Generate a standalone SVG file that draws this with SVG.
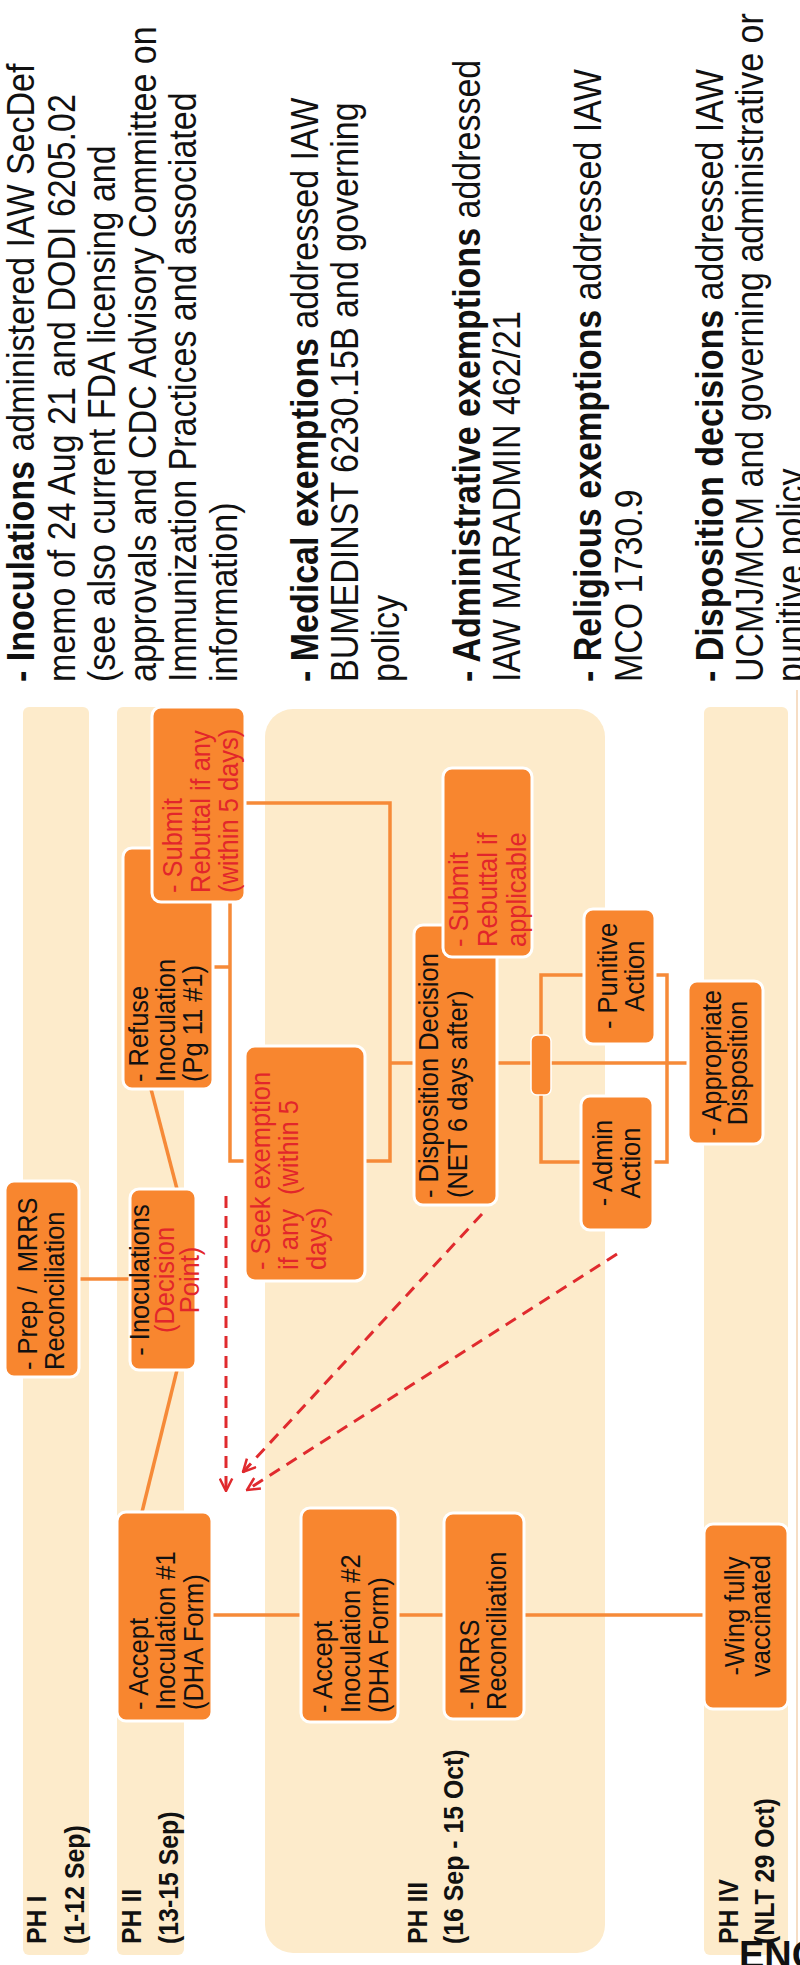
<svg xmlns="http://www.w3.org/2000/svg" width="800" height="1965" viewBox="0 0 800 1965">
<defs>
<style>
text{font-family:"Liberation Sans",Arial,sans-serif;}
.para{font-size:38px;fill:#111;}
.b{font-weight:bold;}
.nt{font-size:28px;fill:#111;}
.red{fill:#E2262B;}
.box{fill:#F8862F;stroke:#fff;stroke-width:3;}
.band{fill:#FDEBCB;}
.conn{stroke:#F68A38;stroke-width:3.5;fill:none;}
.dash{stroke:#E02A2E;stroke-width:3;fill:none;stroke-dasharray:12 8;}
.ph{font-size:27px;font-weight:bold;fill:#111;}
.enc{font-size:38px;font-weight:bold;fill:#111;}
</style>
<marker id="arr" viewBox="0 0 12 12" refX="11" refY="6" markerWidth="5" markerHeight="5" orient="auto" markerUnits="strokeWidth">
<path d="M1,1 L11,6 L1,11" fill="none" stroke="#E02A2E" stroke-width="2"/>
</marker>
</defs>
<rect width="800" height="1965" fill="#fff"/>

<g id="notes">
<text class="para" transform="translate(34,682) rotate(-90) scale(0.895,1)"><tspan class="b">- Inoculations</tspan> administered IAW SecDef</text>
<text class="para" transform="translate(74.5,682) rotate(-90) scale(0.895,1)">memo of 24 Aug 21 and DODI 6205.02</text>
<text class="para" transform="translate(115,682) rotate(-90) scale(0.895,1)">(see also current FDA licensing and</text>
<text class="para" transform="translate(155.5,682) rotate(-90) scale(0.895,1)">approvals and CDC Advisory Committee on</text>
<text class="para" transform="translate(196,682) rotate(-90) scale(0.895,1)">Immunization Practices and associated</text>
<text class="para" transform="translate(236.5,682) rotate(-90) scale(0.895,1)">information)</text>
<text class="para" transform="translate(317.5,682) rotate(-90) scale(0.895,1)"><tspan class="b">- Medical exemptions</tspan> addressed IAW</text>
<text class="para" transform="translate(358,682) rotate(-90) scale(0.895,1)">BUMEDINST 6230.15B and governing</text>
<text class="para" transform="translate(398.5,682) rotate(-90) scale(0.895,1)">policy</text>
<text class="para" transform="translate(479.5,682) rotate(-90) scale(0.895,1)"><tspan class="b">- Administrative exemptions</tspan> addressed</text>
<text class="para" transform="translate(520,682) rotate(-90) scale(0.895,1)">IAW MARADMIN 462/21</text>
<text class="para" transform="translate(601,682) rotate(-90) scale(0.895,1)"><tspan class="b">- Religious exemptions</tspan> addressed IAW</text>
<text class="para" transform="translate(641.5,682) rotate(-90) scale(0.895,1)">MCO 1730.9</text>
<text class="para" transform="translate(722.5,682) rotate(-90) scale(0.895,1)"><tspan class="b">- Disposition decisions</tspan> addressed IAW</text>
<text class="para" transform="translate(763,682) rotate(-90) scale(0.895,1)">UCMJ/MCM and governing administrative or</text>
<text class="para" transform="translate(803.5,682) rotate(-90) scale(0.895,1)">punitive policy</text>
</g>

<g id="lanes">
<rect class="band" x="23" y="707" width="66" height="1248" rx="6"/>
<rect class="band" x="117" y="707" width="67" height="1248" rx="6"/>
<rect class="band" x="265" y="709" width="340" height="1244" rx="28"/>
<rect class="band" x="704" y="707" width="84" height="1248" rx="6"/>
<line x1="797" y1="690" x2="797" y2="1965" stroke="#F3D2B0" stroke-width="1.5"/>
<text class="ph" transform="translate(46,1944) rotate(-90) scale(0.92,1)">PH I</text>
<text class="ph" transform="translate(84,1944) rotate(-90) scale(0.92,1)">(1-12 Sep)</text>
<text class="ph" transform="translate(141,1944) rotate(-90) scale(0.92,1)">PH II</text>
<text class="ph" transform="translate(178,1944) rotate(-90) scale(0.92,1)">(13-15 Sep)</text>
<text class="ph" transform="translate(427,1944) rotate(-90) scale(0.92,1)">PH III</text>
<text class="ph" transform="translate(463,1944) rotate(-90) scale(0.92,1)">(16 Sep - 15 Oct)</text>
<text class="ph" transform="translate(738,1944) rotate(-90) scale(0.92,1)">PH IV</text>
<text class="ph" transform="translate(774,1944) rotate(-90) scale(0.92,1)">(NLT 29 Oct)</text>
<text class="enc" x="739" y="1968">ENC</text>
</g>

<g id="connectors">
<line class="conn" x1="79" y1="1279" x2="130" y2="1279"/>
<line class="conn" x1="151" y1="1089" x2="177" y2="1189"/>
<line class="conn" x1="177" y1="1370" x2="142" y2="1512"/>
<polyline class="conn" points="213,967 230,967"/>
<polyline class="conn" points="230,902 230,1161 245,1161"/>
<polyline class="conn" points="245,803 390,803 390,1161 365,1161"/>
<line class="conn" x1="390" y1="1063" x2="414" y2="1063"/>
<line class="conn" x1="497" y1="1063" x2="688" y2="1063"/>
<polyline class="conn" points="584,975 541,975 541,1162 581,1162"/>
<polyline class="conn" points="655,975 667,975 667,1162 653,1162"/>
<rect x="531" y="1035" width="20" height="60" rx="6" fill="#F8862F" stroke="#fff" stroke-width="1.5"/>
<line class="conn" x1="212" y1="1615" x2="301" y2="1615"/>
<line class="conn" x1="398" y1="1615" x2="444" y2="1615"/>
<line class="conn" x1="524" y1="1615" x2="704" y2="1615"/>
<line class="dash" x1="226" y1="1196" x2="226" y2="1491" marker-end="url(#arr)"/>
<line class="dash" x1="482" y1="1214" x2="243" y2="1472" marker-end="url(#arr)"/>
<line class="dash" x1="617" y1="1254" x2="247" y2="1490" marker-end="url(#arr)"/>
</g>

<g id="n_prep">
<rect class="box" x="5" y="1181" width="74" height="196" rx="9"/>
<text class="nt" transform="translate(37,1370) rotate(-90) scale(0.91,1)" style="white-space:pre"><tspan x="0" y="0">- Prep /  MRRS</tspan><tspan x="0" dy="27">Reconciliation</tspan></text>
</g>
<g id="n_inoc">
<rect class="box" x="130" y="1189" width="66" height="181" rx="9"/>
<text class="nt" text-anchor="middle" transform="translate(149,1280) rotate(-90) scale(0.91,1)"><tspan x="0" y="0">- Inoculations</tspan><tspan class="red" x="0" dy="25">(Decision</tspan><tspan class="red" x="0" dy="25">Point)</tspan></text>
</g>
<g id="n_refuse">
<rect class="box" x="123" y="848" width="90" height="241" rx="9"/>
<text class="nt" transform="translate(148,1082) rotate(-90) scale(0.91,1)"><tspan x="0" y="0">- Refuse</tspan><tspan x="0" dy="27">Inoculation</tspan><tspan x="0" dy="27">(Pg 11 #1)</tspan></text>
</g>
<g id="n_submit1">
<rect class="box" x="152" y="707" width="93" height="195" rx="9"/>
<text class="nt red" transform="translate(182,893) rotate(-90) scale(0.91,1)"><tspan x="0" y="0">- Submit</tspan><tspan x="0" dy="28">Rebuttal if any</tspan><tspan x="0" dy="28">(within 5 days)</tspan></text>
</g>
<g id="n_seek">
<rect class="box" x="245" y="1046" width="120" height="235" rx="10"/>
<text class="nt red" transform="translate(270,1270) rotate(-90) scale(0.91,1)" style="white-space:pre"><tspan x="0" y="0">- Seek exemption</tspan><tspan x="0" dy="28">if any  (within 5</tspan><tspan x="0" dy="28">days)</tspan></text>
</g>
<g id="n_disp">
<rect class="box" x="414" y="925" width="83" height="280" rx="9"/>
<text class="nt" transform="translate(438,1198) rotate(-90) scale(0.91,1)"><tspan x="0" y="0">- Disposition Decision</tspan><tspan x="0" dy="29">(NET 6 days after)</tspan></text>
</g>
<g id="n_submit2">
<rect class="box" x="443" y="768" width="89" height="189" rx="9"/>
<text class="nt red" transform="translate(468,947) rotate(-90) scale(0.91,1)"><tspan x="0" y="0">- Submit</tspan><tspan x="0" dy="29">Rebuttal if</tspan><tspan x="0" dy="29">applicable</tspan></text>
</g>
<g id="n_punitive">
<rect class="box" x="584" y="909" width="71" height="135" rx="9"/>
<text class="nt" text-anchor="middle" transform="translate(617,976) rotate(-90) scale(0.91,1)"><tspan x="0" y="0">- Punitive</tspan><tspan x="0" dy="27">Action</tspan></text>
</g>
<g id="n_admin">
<rect class="box" x="581" y="1096" width="72" height="134" rx="9"/>
<text class="nt" text-anchor="middle" transform="translate(612,1163) rotate(-90) scale(0.91,1)"><tspan x="0" y="0">- Admin</tspan><tspan x="0" dy="28">Action</tspan></text>
</g>
<g id="n_approp">
<rect class="box" x="688" y="981" width="75" height="163" rx="9"/>
<text class="nt" text-anchor="middle" transform="translate(721,1063) rotate(-90) scale(0.91,1)"><tspan x="0" y="0">- Appropriate</tspan><tspan x="0" dy="26">Disposition</tspan></text>
</g>
<g id="n_accept1">
<rect class="box" x="117" y="1512" width="95" height="209" rx="9"/>
<text class="nt" transform="translate(148,1710) rotate(-90) scale(0.91,1)"><tspan x="0" y="0">- Accept</tspan><tspan x="0" dy="27.5">Inoculation #1</tspan><tspan x="0" dy="27.5">(DHA Form)</tspan></text>
</g>
<g id="n_accept2">
<rect class="box" x="301" y="1508" width="97" height="214" rx="9"/>
<text class="nt" transform="translate(332,1713) rotate(-90) scale(0.91,1)"><tspan x="0" y="0">- Accept</tspan><tspan x="0" dy="28">Inoculation #2</tspan><tspan x="0" dy="28">(DHA Form)</tspan></text>
</g>
<g id="n_mrrs">
<rect class="box" x="444" y="1513" width="80" height="206" rx="9"/>
<text class="nt" transform="translate(479,1710) rotate(-90) scale(0.91,1)"><tspan x="0" y="0">- MRRS</tspan><tspan x="0" dy="27">Reconciliation</tspan></text>
</g>
<g id="n_wing">
<rect class="box" x="704" y="1524" width="84" height="185" rx="9"/>
<text class="nt" text-anchor="middle" transform="translate(744,1616) rotate(-90) scale(0.91,1)"><tspan x="0" y="0">-Wing fully</tspan><tspan x="0" dy="26">vaccinated</tspan></text>
</g>
</svg>
